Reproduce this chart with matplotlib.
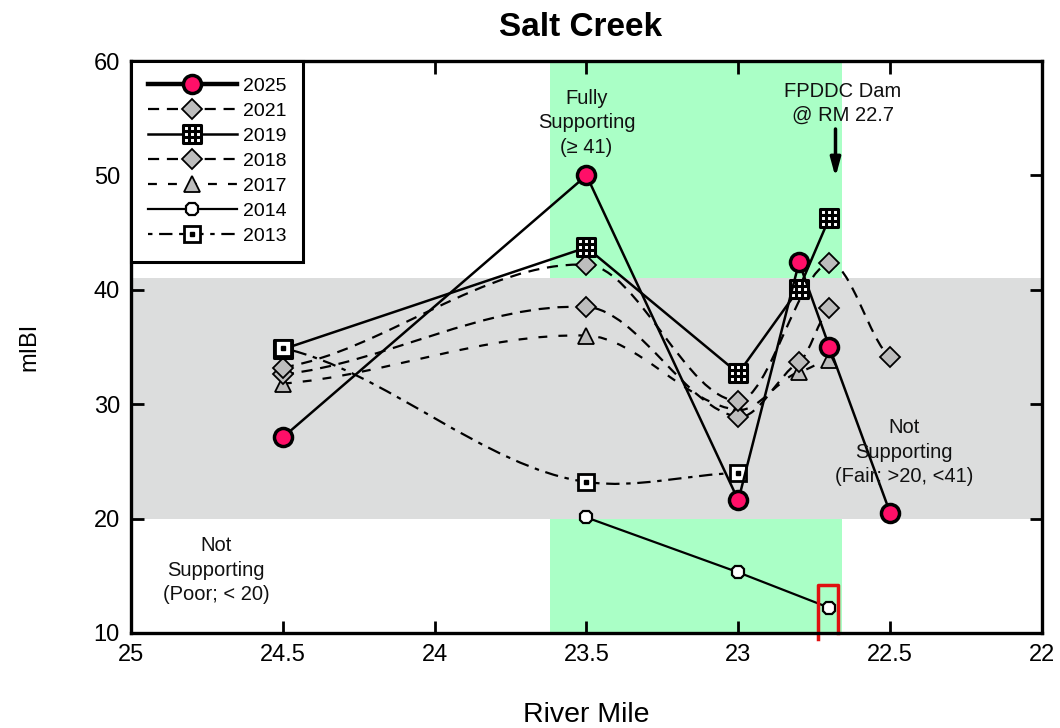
import numpy as np
import matplotlib
matplotlib.use("Agg")
import matplotlib.pyplot as plt
from matplotlib.path import Path
from matplotlib.patches import PathPatch
from matplotlib.lines import Line2D
from matplotlib.legend_handler import HandlerTuple

plt.rcParams['font.family'] = ['Liberation Sans', 'DejaVu Sans']

# ---- survey data (river mile, mIBI score) ----
miles_2025 = [24.5, 23.5, 23.0, 22.8, 22.7, 22.5]
mibi_2025 = [27.1, 50.0, 21.6, 42.4, 35.0, 20.5]

miles_2021 = [24.5, 23.5, 23.0, 22.7, 22.5]
mibi_2021 = [33.2, 42.2, 30.3, 42.3, 34.1]

miles_2019 = [24.5, 23.5, 23.0, 22.8, 22.7]
mibi_2019 = [34.8, 43.7, 32.7, 40.1, 46.3]

miles_2018 = [24.5, 23.5, 23.0, 22.8, 22.7]
mibi_2018 = [32.6, 38.5, 28.9, 33.7, 38.4]

miles_2017 = [24.5, 23.5, 23.0, 22.8, 22.7]
mibi_2017 = [31.8, 36.0, 29.5, 32.8, 33.9]

miles_2014 = [23.5, 23.0, 22.7]
mibi_2014 = [20.1, 15.3, 12.2]

miles_2013 = [24.5, 23.5, 23.0]
mibi_2013 = [34.9, 23.2, 24.0]

x_ticks = [25, 24.5, 24, 23.5, 23, 22.5, 22]
x_tick_labels = ["25", "24.5", "24", "23.5", "23", "22.5", "22"]
y_ticks = [10, 20, 30, 40, 50, 60]

# condition thresholds and reach limits
fair_low, fair_high = 20, 41
reach_upstream, reach_downstream = 23.62, 22.66
dam_mile = 22.68

GREEN = "#aaffc6"
GREY = "#dcdddd"
PINK = "#ff0f68"
DIAMOND = "#bdbdbd"

fig = plt.figure(figsize=(10.6, 7.28), dpi=100)
ax = fig.add_axes([0.1236, 0.1305, 0.983 - 0.1236, 0.9162 - 0.1305])
ax.set_xlim(25, 22)
ax.set_ylim(10, 60)

# background bands
ax.axvspan(reach_upstream, reach_downstream, color=GREEN, zorder=0, lw=0)
ax.axhspan(fair_low, fair_high, color=GREY, zorder=0.5, lw=0)


def smooth_path(xs, ys, tension=0.5):
    """Cubic Hermite curve through the points, as Bezier segments."""
    xs = np.asarray(xs, float)
    ys = np.asarray(ys, float)
    n = len(xs)
    m = np.zeros(n)
    for i in range(n):
        if i == 0:
            m[i] = (ys[1] - ys[0]) / (xs[1] - xs[0])
        elif i == n - 1:
            m[i] = (ys[-1] - ys[-2]) / (xs[-1] - xs[-2])
        else:
            m[i] = (ys[i + 1] - ys[i - 1]) / (xs[i + 1] - xs[i - 1])
    m *= tension
    verts = [(xs[0], ys[0])]
    codes = [Path.MOVETO]
    for i in range(n - 1):
        h = xs[i + 1] - xs[i]
        verts += [(xs[i] + h / 3, ys[i] + m[i] * h / 3),
                  (xs[i + 1] - h / 3, ys[i + 1] - m[i + 1] * h / 3),
                  (xs[i + 1], ys[i + 1])]
        codes += [Path.CURVE4] * 3
    return Path(verts, codes)


def curve(xs, ys, dashes, lw=1.6):
    patch = PathPatch(smooth_path(xs, ys), fill=False, edgecolor="black",
                      lw=lw, zorder=2, transform=ax.transData)
    patch.set_linestyle((0, dashes))
    ax.add_patch(patch)


# grid-in-box marker
s = 0.5
t = 0.17
grid_marker = Path(
    [(-s, -s), (s, -s), (s, s), (-s, s), (-s, -s),
     (-t, -s), (-t, s), (t, -s), (t, s),
     (-s, -t), (s, -t), (-s, t), (s, t)],
    [Path.MOVETO, Path.LINETO, Path.LINETO, Path.LINETO, Path.CLOSEPOLY,
     Path.MOVETO, Path.LINETO, Path.MOVETO, Path.LINETO,
     Path.MOVETO, Path.LINETO, Path.MOVETO, Path.LINETO])

dash_2021 = (5, 3.5)
dash_2018 = (5, 3.5)
dash_2017 = (4, 5)
dash_2013 = (2, 3, 6, 3)

# 2013
curve(miles_2013, mibi_2013, dash_2013)
ax.plot(miles_2013, mibi_2013, ls="none", marker="s", ms=11, mfc="white",
        mec="black", mew=2, zorder=3.6)
ax.plot(miles_2013, mibi_2013, ls="none", marker="s", ms=3.5, mfc="black",
        mec="black", zorder=3.7)

# 2014
ax.plot(miles_2014, mibi_2014, color="black", lw=1.6, marker="8", ms=10,
        mfc="white", mec="black", mew=1.6, zorder=3)

# 2017
curve(miles_2017, mibi_2017, dash_2017)
ax.plot(miles_2017, mibi_2017, ls="none", marker="^", ms=12, mfc=DIAMOND,
        mec="black", mew=1.3, zorder=3)

# 2018
curve(miles_2018, mibi_2018, dash_2018)
ax.plot(miles_2018, mibi_2018, ls="none", marker="D", ms=10.5, mfc=DIAMOND,
        mec="black", mew=1.3, zorder=3)

# 2019
ax.plot(miles_2019, mibi_2019, color="black", lw=1.8, marker=grid_marker,
        ms=13, mfc="white", mec="black", mew=2.2, zorder=3.5)

# 2021
curve(miles_2021, mibi_2021, dash_2021)
ax.plot(miles_2021, mibi_2021, ls="none", marker="D", ms=10.5, mfc=DIAMOND,
        mec="black", mew=1.3, zorder=3)

# 2025
ax.plot(miles_2025, mibi_2025, color="black", lw=1.8, marker="o", ms=13,
        mfc=PINK, mec="black", mew=2.5, zorder=4)

# red bracket at the dam
bracket_left, bracket_right = 22.738, 22.672
bracket_top, bracket_bottom = 14.2, 9.5
ax.plot([bracket_left, bracket_left, bracket_right, bracket_right],
        [bracket_bottom, bracket_top, bracket_top, 10.0],
        color="#e01010", lw=2.5, zorder=3.2, clip_on=False)

# annotations
note_kw = dict(ha="center", va="center", fontsize=14.5, color="#111111",
               linespacing=1.35, zorder=5)
ax.text(23.5, 54.6, "Fully\nSupporting\n(\u2265 41)", **note_kw)
ax.text(22.455, 25.8, "Not\nSupporting\n(Fair; >20, <41)", **note_kw)
ax.text(24.72, 15.5, "Not\nSupporting\n(Poor; < 20)", **note_kw)
ax.text(22.656, 56.3, "FPDDC Dam\n@ RM 22.7", **note_kw)
ax.annotate("", xy=(dam_mile, 49.6), xytext=(dam_mile, 54.3),
            arrowprops=dict(arrowstyle="-|>,head_length=1.1,head_width=0.3",
                            color="black", lw=2.5), zorder=5)

# axes styling
ax.set_xticks(x_ticks)
ax.set_xticklabels(x_tick_labels)
ax.set_yticks(y_ticks)
ax.tick_params(direction="in", length=9, width=2, labelsize=17, pad=8,
               top=True, right=True)
for sp in ax.spines.values():
    sp.set_linewidth(2.4)
    sp.set_zorder(6)
ax.set_xlabel("River Mile", fontsize=20.5, labelpad=26)
ax.set_ylabel("mIBI", fontsize=17, labelpad=38)
ax.set_title("Salt Creek", fontsize=24, fontweight="bold", pad=18, x=0.493)

# legend
h2025 = Line2D([], [], color="black", lw=3.2, marker="o", ms=13, mfc=PINK,
               mec="black", mew=2.5)
h2021 = Line2D([], [], color="black", lw=1.6, ls=(0, dash_2021), marker="D",
               ms=10.5, mfc=DIAMOND, mec="black", mew=1.3)
h2019 = Line2D([], [], color="black", lw=1.8, marker=grid_marker, ms=13,
               mfc="white", mec="black", mew=2.2)
h2018 = Line2D([], [], color="black", lw=1.6, ls=(0, dash_2018), marker="D",
               ms=10.5, mfc=DIAMOND, mec="black", mew=1.3)
h2017 = Line2D([], [], color="black", lw=1.6, ls=(0, dash_2017), marker="^",
               ms=12, mfc=DIAMOND, mec="black", mew=1.3)
h2014 = Line2D([], [], color="black", lw=1.6, marker="8", ms=10,
               mfc="white", mec="black", mew=1.6)
h2013a = Line2D([], [], color="black", lw=1.6, ls=(0, dash_2013), marker="s",
                ms=11, mfc="white", mec="black", mew=2)
h2013b = Line2D([], [], ls="none", marker="s", ms=3.5, mfc="black",
                mec="black")
leg = ax.legend([h2025, h2021, h2019, h2018, h2017, h2014, (h2013a, h2013b)],
                ["2025", "2021", "2019", "2018", "2017", "2014", "2013"],
                handler_map={tuple: HandlerTuple(ndivide=1, pad=0)},
                loc="upper left", bbox_to_anchor=(0, 1), borderaxespad=0,
                fontsize=14, handlelength=4.6, labelspacing=0.38,
                handletextpad=0.3, borderpad=0.85, fancybox=False,
                framealpha=1, edgecolor="black")
leg.get_frame().set_linewidth(2.2)
leg.set_zorder(7)

fig.savefig("out.png", dpi=100)
